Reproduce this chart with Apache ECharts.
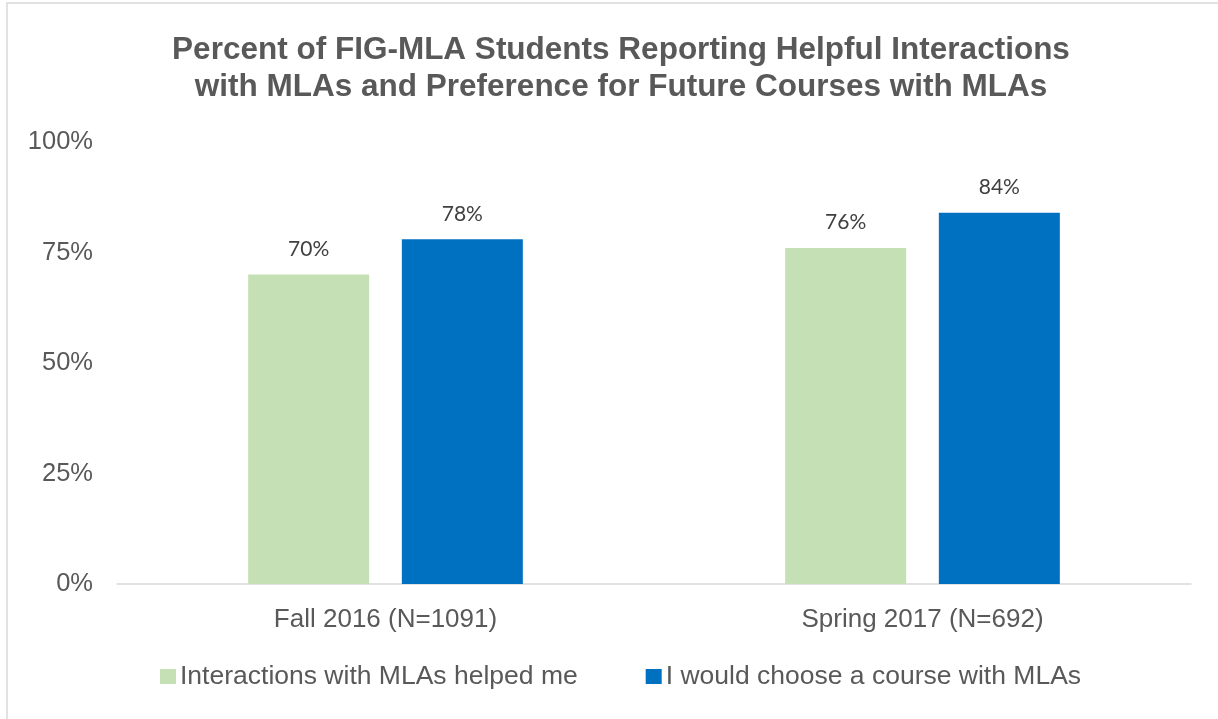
<!DOCTYPE html>
<html>
<head>
<meta charset="utf-8">
<script src="https://cdn.jsdelivr.net/npm/echarts@6/dist/echarts.min.js"></script>
<style>html,body{margin:0;padding:0;background:#fff}#c{width:1218px;height:719px}</style>
</head>
<body>
<div id="c"></div>
<script>
const titleText = 'Percent of FIG-MLA Students Reporting Helpful Interactions\nwith MLAs and Preference for Future Courses with MLAs';
const categories = ['Fall 2016 (N=1091)', 'Spring 2017 (N=692)'];
const seriesNames = ['Interactions with MLAs helped me', 'I would choose a course with MLAs'];
const helpedValues = [70, 76];
const chooseValues = [78, 84];
const yTicks = [0, 25, 50, 75, 100];

const chart = echarts.init(document.getElementById('c'));
const labelStyle = {
  show: true, position: 'top', distance: 15,
  formatter: p => p.value + '%',
  color: '#404040', fontSize: 21, fontFamily: 'Lato, "Open Sans", sans-serif'
};
chart.setOption({
  animation: false,
  backgroundColor: '#fff',
  graphic: [{
    type: 'rect', shape: {x: 7, y: 3, width: 1300, height: 800},
    style: {fill: 'none', stroke: '#d9d9d9', lineWidth: 1.5}, silent: true
  }],
  title: {
    text: titleText, left: 616, top: 27, textAlign: 'center',
    textStyle: {fontFamily: '"Liberation Sans", Arial, sans-serif', fontWeight: 'bold', fontSize: 31.5, color: '#595959', lineHeight: 37}
  },
  legend: {
    data: seriesNames, left: 160, top: 663, padding: 0, itemWidth: 16, itemHeight: 15, itemGap: 68,
    icon: 'rect',
    textStyle: {fontFamily: '"Liberation Sans", Arial, sans-serif', fontSize: 26.5, color: '#595959', padding: [0,0,0,-1]}
  },
  grid: {left: 117, right: 27, top: 142, bottom: 135, containLabel: false},
  xAxis: {
    type: 'category', data: categories,
    axisLine: {lineStyle: {color: '#d9d9d9', width: 1.5}},
    axisTick: {show: false},
    axisLabel: {fontFamily: '"Liberation Sans", Arial, sans-serif', fontSize: 26, color: '#595959', margin: 23}
  },
  yAxis: {
    type: 'value', min: 0, max: 100, interval: 25,
    axisLine: {show: false}, axisTick: {show: false},
    splitLine: {show: false},
    axisLabel: {formatter: v => yTicks.includes(v) ? v + '%' : '', fontFamily: '"Liberation Sans", Arial, sans-serif', fontSize: 25.5, color: '#595959', margin: 24}
  },
  series: [
    {name: seriesNames[0], type: 'bar', data: helpedValues, barWidth: 121, barGap: '27%', itemStyle: {color: '#C5E0B4'}, label: labelStyle},
    {name: seriesNames[1], type: 'bar', data: chooseValues, barWidth: 121, itemStyle: {color: '#0070C0'}, label: labelStyle}
  ]
});
</script>
</body>
</html>
